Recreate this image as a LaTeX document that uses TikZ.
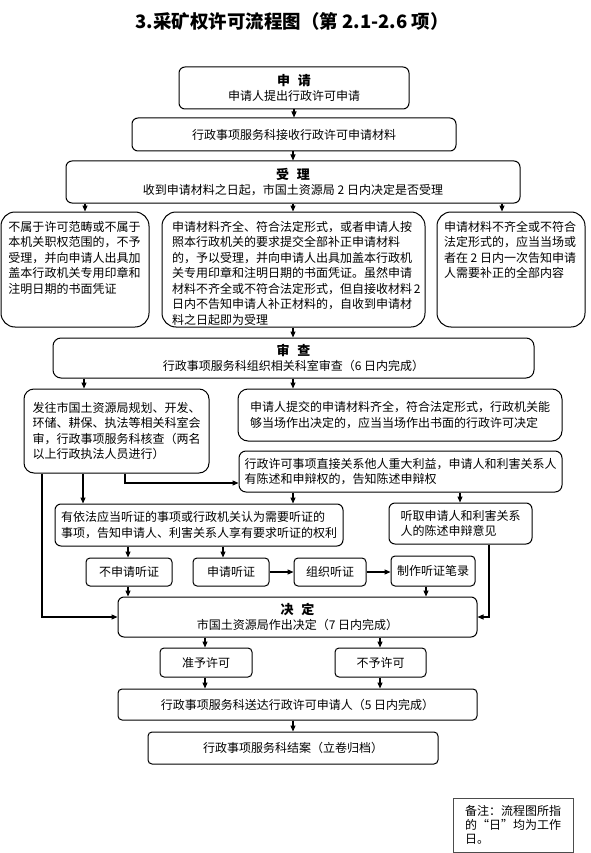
\documentclass[tikz,border=0pt]{standalone}
\usepackage{fontspec}
\setmainfont{Noto Sans CJK SC}
\usetikzlibrary{arrows.meta}

\newcommand{\hd}{\fontsize{13}{15}\selectfont\bfseries}
\newcommand{\toptext}[3]{\parbox[c][#2][t]{#1}{#3}}

\begin{document}
\begin{tikzpicture}[
  x=1pt, y=-1pt,
  font=\fontsize{12}{15.5}\selectfont,
  box/.style={draw, line width=1pt, rounded corners=#1, inner sep=0pt, align=center},
  box/.default=6pt,
  lbox/.style={draw, line width=1pt, rounded corners=#1, inner sep=0pt, align=left},
  lbox/.default=8pt,
  pbox/.style={draw, line width=1pt, rounded corners=14pt, inner sep=0pt, minimum width=#1, minimum height=115pt},
  arr/.style={-{Triangle[length=6pt,width=5pt]}, line width=1.1pt}
]
  \useasboundingbox (0,0) rectangle (590,853);

  \node (title) at (292,21) {\fontsize{18.5}{20}\selectfont\bfseries 3.采矿权许可流程图（第 2.1-2.6 项）};

  % apply and accept
  \node[box, minimum width=230pt, minimum height=42pt] (apply) at (294,88)
    {{\hd 申\hspace{0.6em}请}\\申请人提出行政许可申请};
  \node[box, minimum width=324pt, minimum height=33pt] (recv) at (294,134.5)
    {行政事项服务科接收行政许可申请材料};
  \node[box, minimum width=454pt, minimum height=42pt] (accept) at (293,182)
    {{\hd 受\hspace{0.6em}理}\\收到申请材料之日起，市国土资源局 2 日内决定是否受理};

  \node[pbox=148pt] (reject) at (75,269.5) {\toptext{133pt}{97pt}{%
    不属于许可范畴或不属于\\本机关职权范围的，不予\\受理，并向申请人出具加\\盖本行政机关专用印章和\\注明日期的书面凭证}};
  \node[pbox=263pt] (acceptok) at (293.5,269.5) {\toptext{243pt}{97pt}{%
    申请材料齐全、符合法定形式，或者申请人按\\照本行政机关的要求提交全部补正申请材料\\的，予以受理，并向申请人出具加盖本行政机\\关专用印章和注明日期的书面凭证。虽然申请\\材料不齐全或不符合法定形式，但自接收材料~2\\日内不告知申请人补正材料的，自收到申请材\\料之日起即为受理}};
  \node[pbox=148pt] (notify) at (511,269.5) {\toptext{134pt}{97pt}{%
    申请材料不齐全或不符合\\法定形式的，应当当场或\\者在~2~日内一次告知申请\\人需要补正的全部内容}};

  % review
  \node[box=8pt, minimum width=481pt, minimum height=40pt] (review) at (293.5,358)
    {{\hd 审\hspace{0.6em}查}\\行政事项服务科组织相关科室审查（6 日内完成）};
  \node[lbox=10pt, minimum width=185pt, minimum height=84pt] (joint) at (116.5,431)
    {发往市国土资源局规划、开发、\\环储、耕保、执法等相关科室会\\审，行政事项服务科核查（两名\\以上行政执法人员进行）};
  \node[lbox=10pt, minimum width=324pt, minimum height=52pt] (spot) at (400,415)
    {申请人提交的申请材料齐全，符合法定形式，行政机关能\\够当场作出决定的，应当当场作出书面的行政许可决定};
  \node[lbox=7pt, minimum width=323pt, minimum height=41pt] (defend) at (400.5,471.5)
    {行政许可事项直接关系他人重大利益，申请人和利害关系人\\有陈述和申辩权的，告知陈述申辩权};

  % hearing
  \node[lbox=6pt, minimum width=288pt, minimum height=42pt] (hearnote) at (199,525)
    {有依法应当听证的事项或行政机关认为需要听证的\\事项，告知申请人、利害关系人享有要求听证的权利};
  \node[lbox=6pt, minimum width=143pt, minimum height=41pt] (listen) at (460.5,523.5)
    {听取申请人和利害关系\\人的陈述申辩意见};
  \node[box=4pt, minimum width=86pt, minimum height=28pt] (nohear) at (129,572) {不申请听证};
  \node[box=4pt, minimum width=76pt, minimum height=28pt] (askhear) at (231,572) {申请听证};
  \node[box=4pt, minimum width=72pt, minimum height=28pt] (orghear) at (330,572) {组织听证};
  \node[box=4pt, minimum width=84pt, minimum height=30pt] (record) at (433,571) {制作听证笔录};

  % decision
  \node[box, minimum width=359pt, minimum height=40pt] (decide) at (297.5,617)
    {{\hd 决\hspace{0.6em}定}\\市国土资源局作出决定（7 日内完成）};
  \node[box=4pt, minimum width=92pt, minimum height=29pt] (grant) at (206,662.5) {准予许可};
  \node[box=4pt, minimum width=91pt, minimum height=29pt] (deny) at (380.5,662.5) {不予许可};
  \node[box=4pt, minimum width=359pt, minimum height=31pt] (deliver) at (297.5,704.5)
    {行政事项服务科送达行政许可申请人（5 日内完成）};
  \node[box=4pt, minimum width=290pt, minimum height=32pt] (close) at (293,748)
    {行政事项服务科结案（立卷归档）};

  \node[draw=black!70, line width=1pt, minimum width=120pt, minimum height=54pt, inner sep=0pt, align=left,
    font=\fontsize{12}{14}\selectfont] (note) at (513,825)
    {备注：流程图所指\\的“日”均为工作\\日。};

  % connectors
  \draw[arr] (apply.south) -- (apply.south |- recv.north);
  \draw[arr] (recv.south -| 293,0) -- (293,0 |- accept.north);
  \draw[arr] (accept.south -| 85,0) -- (85,0 |- reject.north);
  \draw[arr] (accept.south -| 293,0) -- (293,0 |- acceptok.north);
  \draw[arr] (accept.south -| 502,0) -- (502,0 |- notify.north);
  \draw[arr] (acceptok.south -| 293,0) -- (293,0 |- review.north);
  \draw[arr] (review.south -| 84,0) -- (84,0 |- joint.north);
  \draw[arr] (review.south -| 293,0) -- (293,0 |- spot.north);
  \draw[arr] (joint.south -| 125,0) |- ([yshift=-11.5pt]defend.west);
  \draw[arr] (joint.south -| 83,0) -- (83,0 |- hearnote.north);
  \draw[arr] (joint.south -| 42,0) |- (decide.west);
  \draw[arr] (defend.south -| 293,0) -- (293,0 |- hearnote.north);
  \draw[arr] (defend.south -| 460,0) -- (460,0 |- listen.north);
  \draw[arr] (hearnote.south -| 128,0) -- (128,0 |- nohear.north);
  \draw[arr] (hearnote.south -| 223,0) -- (223,0 |- askhear.north);
  \draw[arr] (askhear) -- (orghear);
  \draw[arr] (orghear) -- (orghear -| record.west);
  \draw[arr] (nohear.south -| 128,0) -- (128,0 |- decide.north);
  \draw[arr] (record.south -| 426,0) -- (426,0 |- decide.north);
  \draw[arr] (listen.south -| 489,0) |- (decide.east);
  \draw[arr] (decide.south -| 205,0) -- (205,0 |- grant.north);
  \draw[arr] (decide.south -| 380,0) -- (380,0 |- deny.north);
  \draw[arr] (grant.south -| 205,0) -- (205,0 |- deliver.north);
  \draw[arr] (deny.south -| 380,0) -- (380,0 |- deliver.north);
  \draw[arr] (deliver.south -| 293,0) -- (293,0 |- close.north);
\end{tikzpicture}
\end{document}
